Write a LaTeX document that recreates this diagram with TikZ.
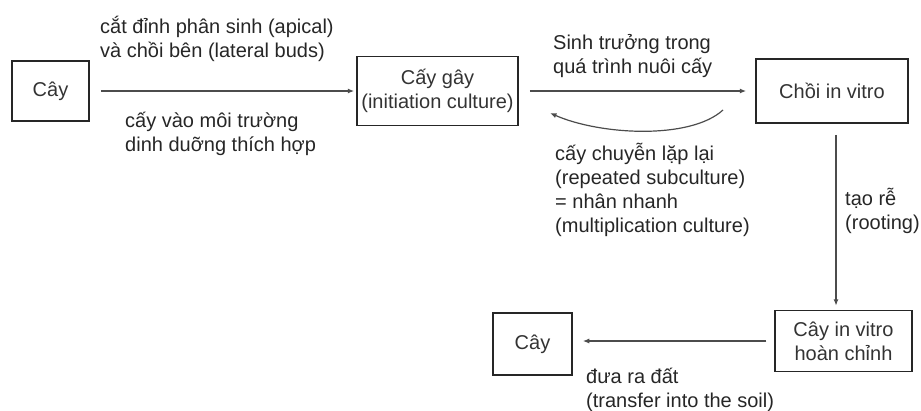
\documentclass[tikz,border=0pt]{standalone}
\usepackage{fontspec}
\setmainfont{Liberation Sans}
\usetikzlibrary{arrows.meta}

\begin{document}
\begin{tikzpicture}[x=1pt, y=-1pt,
    box/.style = {draw=black!85, line width=1.5pt, align=center,
        text=black!80, inner sep=0pt},
    lbl/.style = {anchor=west, align=left, inner sep=0pt, text=black!85},
    arr/.style = {draw=black!70, line width=1.2pt,
        -{Latex[length=6.5pt,width=5pt]}},
    font=\fontsize{20}{24}\selectfont]

\useasboundingbox (0,0) rectangle (921,410);

% Boxes
\node[box, minimum width=77, minimum height=60] (cay) at (50.5,91) {Cây};
\node[box, minimum width=161, minimum height=69] (caygay) at (437.5,91)
    {Cấy gây\\(initiation culture)};
\node[box, minimum width=152, minimum height=64] (choi) at (832,91) {Chồi in vitro};
\node[box, minimum width=137, minimum height=61] (hoanchinh) at (843.5,341)
    {Cây in vitro\\hoàn chỉnh};
\node[box, minimum width=79, minimum height=62] (caymoi) at (532.5,344) {Cây};

% Arrows
\draw[arr, shorten <=11pt, shorten >=2pt] (cay.east) -- (caygay.west);
\draw[arr, shorten <=11pt, shorten >=9pt] (caygay.east) -- (choi.west);
\draw[arr, shorten <=11pt, shorten >=4pt] ([xshift=4pt]choi.south)
    -- ([xshift=4pt]choi.south |- hoanchinh.north);
\draw[arr, shorten <=8pt, shorten >=10pt] (hoanchinh.west) -- (hoanchinh.west -| caymoi.east);

% Subculture loop
\coordinate (loopstart) at (723,110);
\coordinate (loopend) at (550,113);
\draw[arr] (loopstart) .. controls (690,140) and (600,135) .. (loopend);

% Labels
\node[lbl] (apical) at (100,38.5) {cắt đỉnh phân sinh (apical)\\và chồi bên (lateral buds)};
\node[lbl] (moitruong) at (125,134) {cấy vào môi trường\\dinh duỡng thích hợp};
\node[lbl] (sinhtruong) at (553,56.5) {Sinh trưởng trong\\quá trình nuôi cấy};
\node[lbl] (subculture) at (555,190) {cấy chuyễn lặp lại\\(repeated subculture)\\= nhân nhanh\\(multiplication culture)};
\node[lbl] (rooting) at (845,211) {tạo rễ\\(rooting)};
\node[lbl] (soil) at (586,390) {đưa ra đất\\(transfer into the soil)};
\end{tikzpicture}
\end{document}
